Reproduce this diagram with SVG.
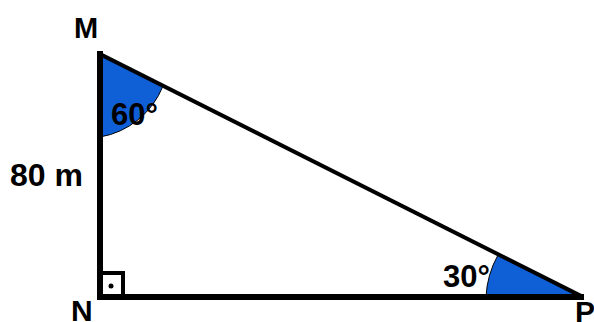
<svg xmlns="http://www.w3.org/2000/svg" width="594" height="322" viewBox="0 0 594 322">
<style>
.lbl{font-family:"Liberation Sans",Arial,sans-serif;font-weight:bold;fill:#000;}
.ang{fill:#0f5fd6;stroke:#000;stroke-width:1;}
.side{stroke:#000;stroke-linecap:square;fill:none;}
</style>
<rect width="594" height="322" fill="#fff"/>
<g id="angleM"><path class="ang" d="M100,54 L100,137 A83,83 0 0 0 163,86 Z"/></g>
<g id="angleP"><path class="ang" d="M581,297 L486,297 A95,95 0 0 1 498,255 Z"/></g>
<g id="connectors">
<line class="side" x1="100" y1="54" x2="581" y2="296" stroke-width="4"/>
<line class="side" x1="100" y1="54" x2="100" y2="297" stroke-width="6"/>
<line class="side" x1="100" y1="297" x2="581" y2="297" stroke-width="6"/>
</g>
<g id="rightAngle">
<rect x="100" y="273" width="23" height="24" fill="none" stroke="#000" stroke-width="4"/>
<circle cx="111" cy="286" r="2.5" fill="#000"/>
</g>
<g id="M"><text class="lbl" x="74" y="38" font-size="29">M</text></g>
<g id="N"><text class="lbl" x="71" y="321" font-size="30">N</text></g>
<g id="P"><text class="lbl" x="575" y="322" font-size="30">P</text></g>
<g id="side"><text class="lbl" x="10" y="186" font-size="32">80 m</text></g>
<g id="a60"><text class="lbl" x="111" y="125" font-size="31">60°</text></g>
<g id="a30"><text class="lbl" x="443" y="287" font-size="31">30°</text></g>
</svg>
